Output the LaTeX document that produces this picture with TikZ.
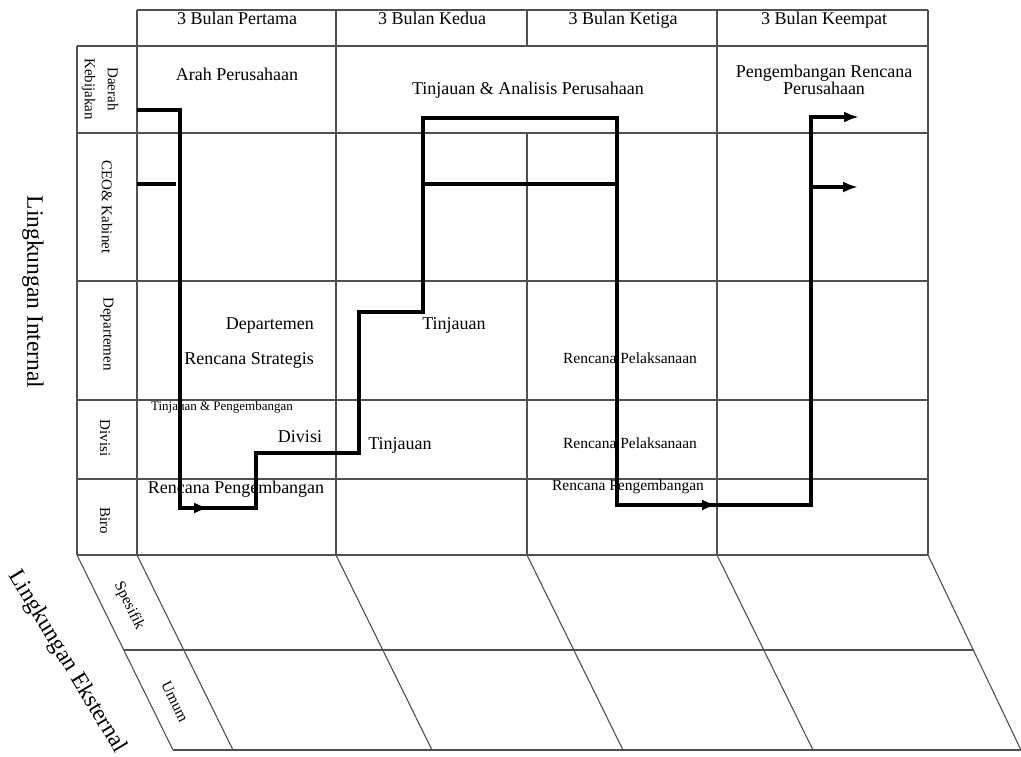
\documentclass[tikz,border=0pt]{standalone}
\usepackage{fontspec}
\setmainfont{Liberation Serif}
\usetikzlibrary{arrows.meta}
\definecolor{gridgray}{RGB}{80, 80, 80}
\tikzset{
    gridline/.style={draw=gridgray, line width=1.1pt},
    flowline/.style={draw=black, line width=3.2pt},
    flowtip/.style={flowline, -{Latex[length=15pt, width=11pt]}},
    head/.style={inner sep=0pt, anchor=base, font=\fontsize{18}{18}\selectfont},
    cell/.style={inner sep=0pt, font=\fontsize{18}{18}\selectfont},
    smallcell/.style={inner sep=0pt, font=\fontsize{15.5}{16}\selectfont},
    rowlabel/.style={inner sep=0pt, rotate=-90, align=center, font=\fontsize{15}{23}\selectfont},
    sidelabel/.style={inner sep=0pt, font=\fontsize{23.5}{24}\selectfont},
}

\begin{document}
\begin{tikzpicture}[x=1pt, y=-1pt]
        \useasboundingbox (0,0) rectangle (1021,756);
        \foreach \y in {46,133,281,400,479,555}
            \draw[gridline] (77,\y) -- (928,\y);
        \draw[gridline] (137,10) -- (928,10);
        \draw[gridline] (77,46) -- (77,555);
        \foreach \x in {137,336,717,928}
            \draw[gridline] (\x,10) -- (\x,555);
        \draw[gridline] (527,10) -- (527,46) (527,133) -- (527,555);
        \foreach \x in {77,137,336,527,717}
            \draw[gridline] (\x,555) -- ++(96,195);
        \draw[gridline] (928,555) -- (1021,750);
        \draw[gridline] (124,650) -- (973,650);
        \draw[gridline] (173,750) -- (1021,750);

        \node[head] (bulan1) at (237,24) {3 Bulan Pertama};
        \node[head] (bulan2) at (432,24) {3 Bulan Kedua};
        \node[head] (bulan3) at (623,24) {3 Bulan Ketiga};
        \node[head] (bulan4) at (824,24) {3 Bulan Keempat};

        \node[rowlabel] (daerah) at (100,89) {Daerah\\Kebijakan};
        \node[rowlabel] (ceo) at (107,207) {CEO\& Kabinet};
        \node[rowlabel] (dept) at (107,334) {Departemen};
        \node[rowlabel] (divisi) at (105,438) {Divisi};
        \node[rowlabel] (biro) at (105,521) {Biro};

        \node[sidelabel, rotate=-90] (internal) at (33,292) {Lingkungan Internal};
        \node[sidelabel, rotate=-59] (eksternal) at (67,662) {Lingkungan Eksternal};
        \node[smallcell, rotate=-63.7] (spesifik) at (129,606) {Spesifik};
        \node[smallcell, rotate=-63.7] (umum) at (175,702) {Umum};

        \node[cell] (arah) at (237,74) {Arah Perusahaan};
        \node[cell] (analisis) at (528,90) {Tinjauan \& Analisis Perusahaan};
        \node[cell, align=center, font=\fontsize{18}{17}\selectfont] (rencanaper) at (824,80) {Pengembangan Rencana\\Perusahaan};
        \node[cell, anchor=east] (deptlbl) at (314,326) {Departemen};
        \node[cell, anchor=east] (strategis) at (314,360) {Rencana Strategis};
        \node[inner sep=0pt, font=\fontsize{13}{13}\selectfont] (tinpeng) at (222,407) {Tinjauan \& Pengembangan};
        \node[cell] (divlbl) at (300,437) {Divisi};
        \node[cell] (pengbiro) at (236,489) {Rencana Pengembangan};
        \node[cell] (tinjau1) at (454,325) {Tinjauan};
        \node[cell] (tinjau2) at (400,445) {Tinjauan};
        \node[smallcell] (laksana1) at (630,358) {Rencana Pelaksanaan};
        \node[smallcell] (laksana2) at (630,443) {Rencana Pelaksanaan};
        \node[smallcell] (pengbiro2) at (628,487) {Rencana Pengembangan};

        \draw[flowline] (137,110) -- (180,110) -- (180,508) -- (256,508) -- (256,453)
            -- (359,453) -- (359,312) -- (423,312) -- (423,118) -- (617,118)
            -- (617,505) -- (811,505) -- (811,117) -- (845,117);
        \draw[flowtip] (180,508) -- (209,508);
        \draw[flowtip] (617,505) -- (717,505);
        \draw[flowtip] (811,117) -- (859,117);
        \draw[flowline] (137,184) -- (176,184);
        \draw[flowline] (423,184) -- (617,184);
        \draw[flowtip] (811,187) -- (858,187);
    \end{tikzpicture}
\end{document}
